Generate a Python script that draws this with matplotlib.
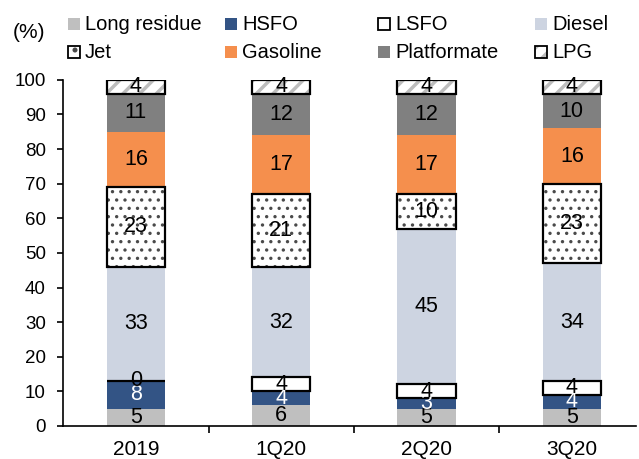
import numpy as np
import matplotlib.pyplot as plt
from matplotlib.patches import Rectangle

plt.rcParams['font.family'] = ['Liberation Sans', 'DejaVu Sans']
plt.rcParams['hatch.linewidth'] = 1.2

periods = ['2019', '1Q20', '2Q20', '3Q20']
products = ['Long residue', 'HSFO', 'LSFO', 'Diesel', 'Jet', 'Gasoline', 'Platformate', 'LPG']

long_residue = [5, 6, 5, 5]
hsfo = [8, 4, 3, 4]
lsfo = [0, 4, 4, 4]
diesel = [33, 32, 45, 34]
jet = [23, 21, 10, 23]
gasoline = [16, 17, 17, 16]
platformate = [11, 12, 12, 10]
lpg = [4, 4, 4, 4]

series = [long_residue, hsfo, lsfo, diesel, jet, gasoline, platformate, lpg]

# face colour, hatch, legend hatch, hatch colour, hatch width, outlined?, label colour
styles = {
    'Long residue': ('#BFBFBF', None, None, None, 0, False, 'black'),
    'HSFO': ('#335485', None, None, None, 0, False, 'white'),
    'LSFO': ('white', None, None, None, 0, True, 'black'),
    'Diesel': ('#CDD4E1', None, None, None, 0, False, 'black'),
    'Jet': ('white', '..', '.', '#4A4A4A', 1.2, True, 'black'),
    'Gasoline': ('#F58F4D', None, None, None, 0, False, 'black'),
    'Platformate': ('#808080', None, None, None, 0, False, 'black'),
    'LPG': ('white', '//', '//', '#BDBDBD', 2.5, True, 'black'),
}


def set_hatch_width(patch, lw):
    if hasattr(patch, 'set_hatch_linewidth'):
        patch.set_hatch_linewidth(lw)


fig = plt.figure(figsize=(6.39, 4.59), dpi=100)
ax = fig.add_axes([0.099, 0.072, 0.896, 0.754])

x = np.arange(len(periods))
width = 0.4
bottom = np.zeros(len(periods))
for name, vals in zip(products, series):
    vals = np.array(vals, dtype=float)
    fc, hatch, lhatch, hcol, hlw, outlined, tcol = styles[name]
    if hatch:
        with plt.rc_context({'hatch.linewidth': hlw}):
            bars = ax.bar(x, vals, width, bottom=bottom, color=fc, hatch=hatch,
                          edgecolor=hcol, linewidth=0, zorder=2)
        for b in bars:
            set_hatch_width(b, hlw)
    else:
        ax.bar(x, vals, width, bottom=bottom, color=fc, linewidth=0, zorder=2)
    if outlined:
        ax.bar(x, vals, width, bottom=bottom, fill=False,
               edgecolor='black', linewidth=1.6, zorder=3)
    for xi, b, v in zip(x, bottom, vals):
        ax.text(xi, b + v / 2, f'{v:.0f}', ha='center', va='center',
                fontsize=15.5, color=tcol, zorder=4)
    bottom += vals

ax.set_xlim(-0.5, 3.44)
ax.set_ylim(0, 100)
ax.set_yticks(range(0, 101, 10))
ax.set_xticks(x)
ax.set_xticklabels(periods)
ax.set_xticks(x[:-1] + 0.5, minor=True)
ax.tick_params(axis='x', which='major', length=0, labelsize=15, pad=10)
ax.tick_params(axis='x', which='minor', length=5, direction='out', width=1.2)
ax.tick_params(axis='y', length=4.5, direction='out', width=1.2, labelsize=13.5, pad=8)
for s in ['top', 'right']:
    ax.spines[s].set_visible(False)
for s in ['left', 'bottom']:
    ax.spines[s].set_linewidth(1.2)

# legend drawn by hand: two rows of four, fixed column positions (pixels)
W, H = 639, 459
col_x = [68, 225, 378, 535]
row_y = [24, 52]
box = 12
for i, name in enumerate(products):
    fc, hatch, lhatch, hcol, hlw, outlined, tcol = styles[name]
    px = col_x[i % 4]
    py = row_y[i // 4]
    xy = (px / W, 1 - (py + box / 2) / H)
    if lhatch:
        with plt.rc_context({'hatch.linewidth': hlw}):
            inner = Rectangle(xy, box / W, box / H, transform=fig.transFigure,
                              facecolor=fc, edgecolor=hcol, linewidth=0,
                              hatch=lhatch)
        set_hatch_width(inner, hlw)
        fig.add_artist(inner)
        fc = 'none'
    rect = Rectangle(xy, box / W, box / H,
                     transform=fig.transFigure, facecolor=fc,
                     edgecolor='black' if outlined else 'none',
                     linewidth=1.3 if outlined else 0)
    fig.add_artist(rect)
    fig.text((px + box + 5) / W, 1 - py / H, name, fontsize=14.5,
             ha='left', va='center')
fig.text(13 / W, 1 - 33 / H, '(%)', fontsize=15, ha='left', va='center')

fig.savefig('out.png', dpi=100)
